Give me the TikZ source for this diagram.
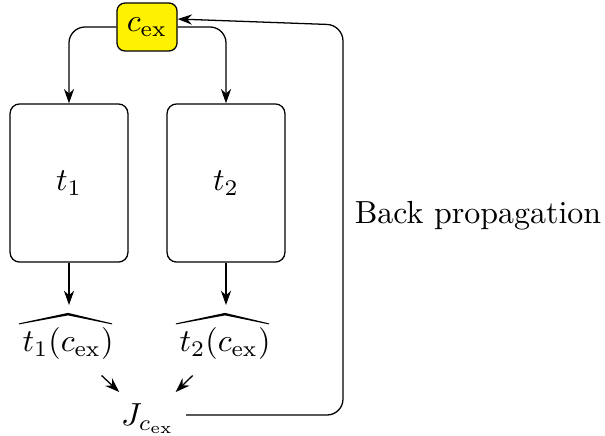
\documentclass[tikz,border=0pt]{standalone}
\usetikzlibrary{arrows.meta,calc}
\begin{document}
\begin{tikzpicture}[x=0.313pt,y=-0.313pt,
  tbox/.style={draw,rounded corners=3pt,minimum width=36.9pt,minimum height=49.5pt,inner sep=0pt},
  cbox/.style={draw,fill=yellow,rounded corners=2.5pt,minimum width=18.8pt,minimum height=15pt,inner sep=0pt},
  lbl/.style={inner sep=0pt},
  arr/.style={-{Stealth[length=4.5pt,width=3.2pt]}},
  conn/.style={arr,rounded corners=5pt}]
\useasboundingbox (0,0) rectangle (605,435);
\node[cbox] (cex) at (147,27) {$c_{\mathrm{ex}}$};
\node[tbox] (t1) at (69,183) {$t_1$};
\node[tbox] (t2) at (226,183) {$t_2$};
\node[lbl] (t1h) at (68,344) {$t_1(c_{\mathrm{ex}})$};
\node[lbl] (t2h) at (225,344) {$t_2(c_{\mathrm{ex}})$};
\node (J) at (148,419) {$J_{c_{\mathrm{ex}}}$};
\node (bp) at (478,216) {Back propagation};
\coordinate (corner) at (343,25);
% wide hats
\foreach \n in {t1h,t2h}{
  \fill ($(\n.north west)+(-3,-4)$) -- ($(\n.north)+(0,-14.5)$) -- ($(\n.north east)+(-2,-4)$)
        -- ($(\n.north east)+(-2,-3)$) -- ($(\n.north)+(0,-12)$) -- ($(\n.north west)+(-3,-3)$) -- cycle;
}
\draw[conn] (cex.west) -| (t1.north);
\draw[conn] (cex.east) -| (t2.north);
\draw[arr] (t1.south) -- (t1.south |- 0,305);
\draw[arr] (t2.south) -- (t2.south |- 0,305);
\draw[arr] ($(t1h)!0.42!(J)$) -- ($(t1h)!0.64!(J)$);
\draw[arr] ($(t2h)!0.42!(J)$) -- ($(t2h)!0.64!(J)$);
\draw[conn] ($(J.east)+(0,-4)$) -| (corner) -- ($(cex.east)+(0,-8)$);
\end{tikzpicture}
\end{document}
